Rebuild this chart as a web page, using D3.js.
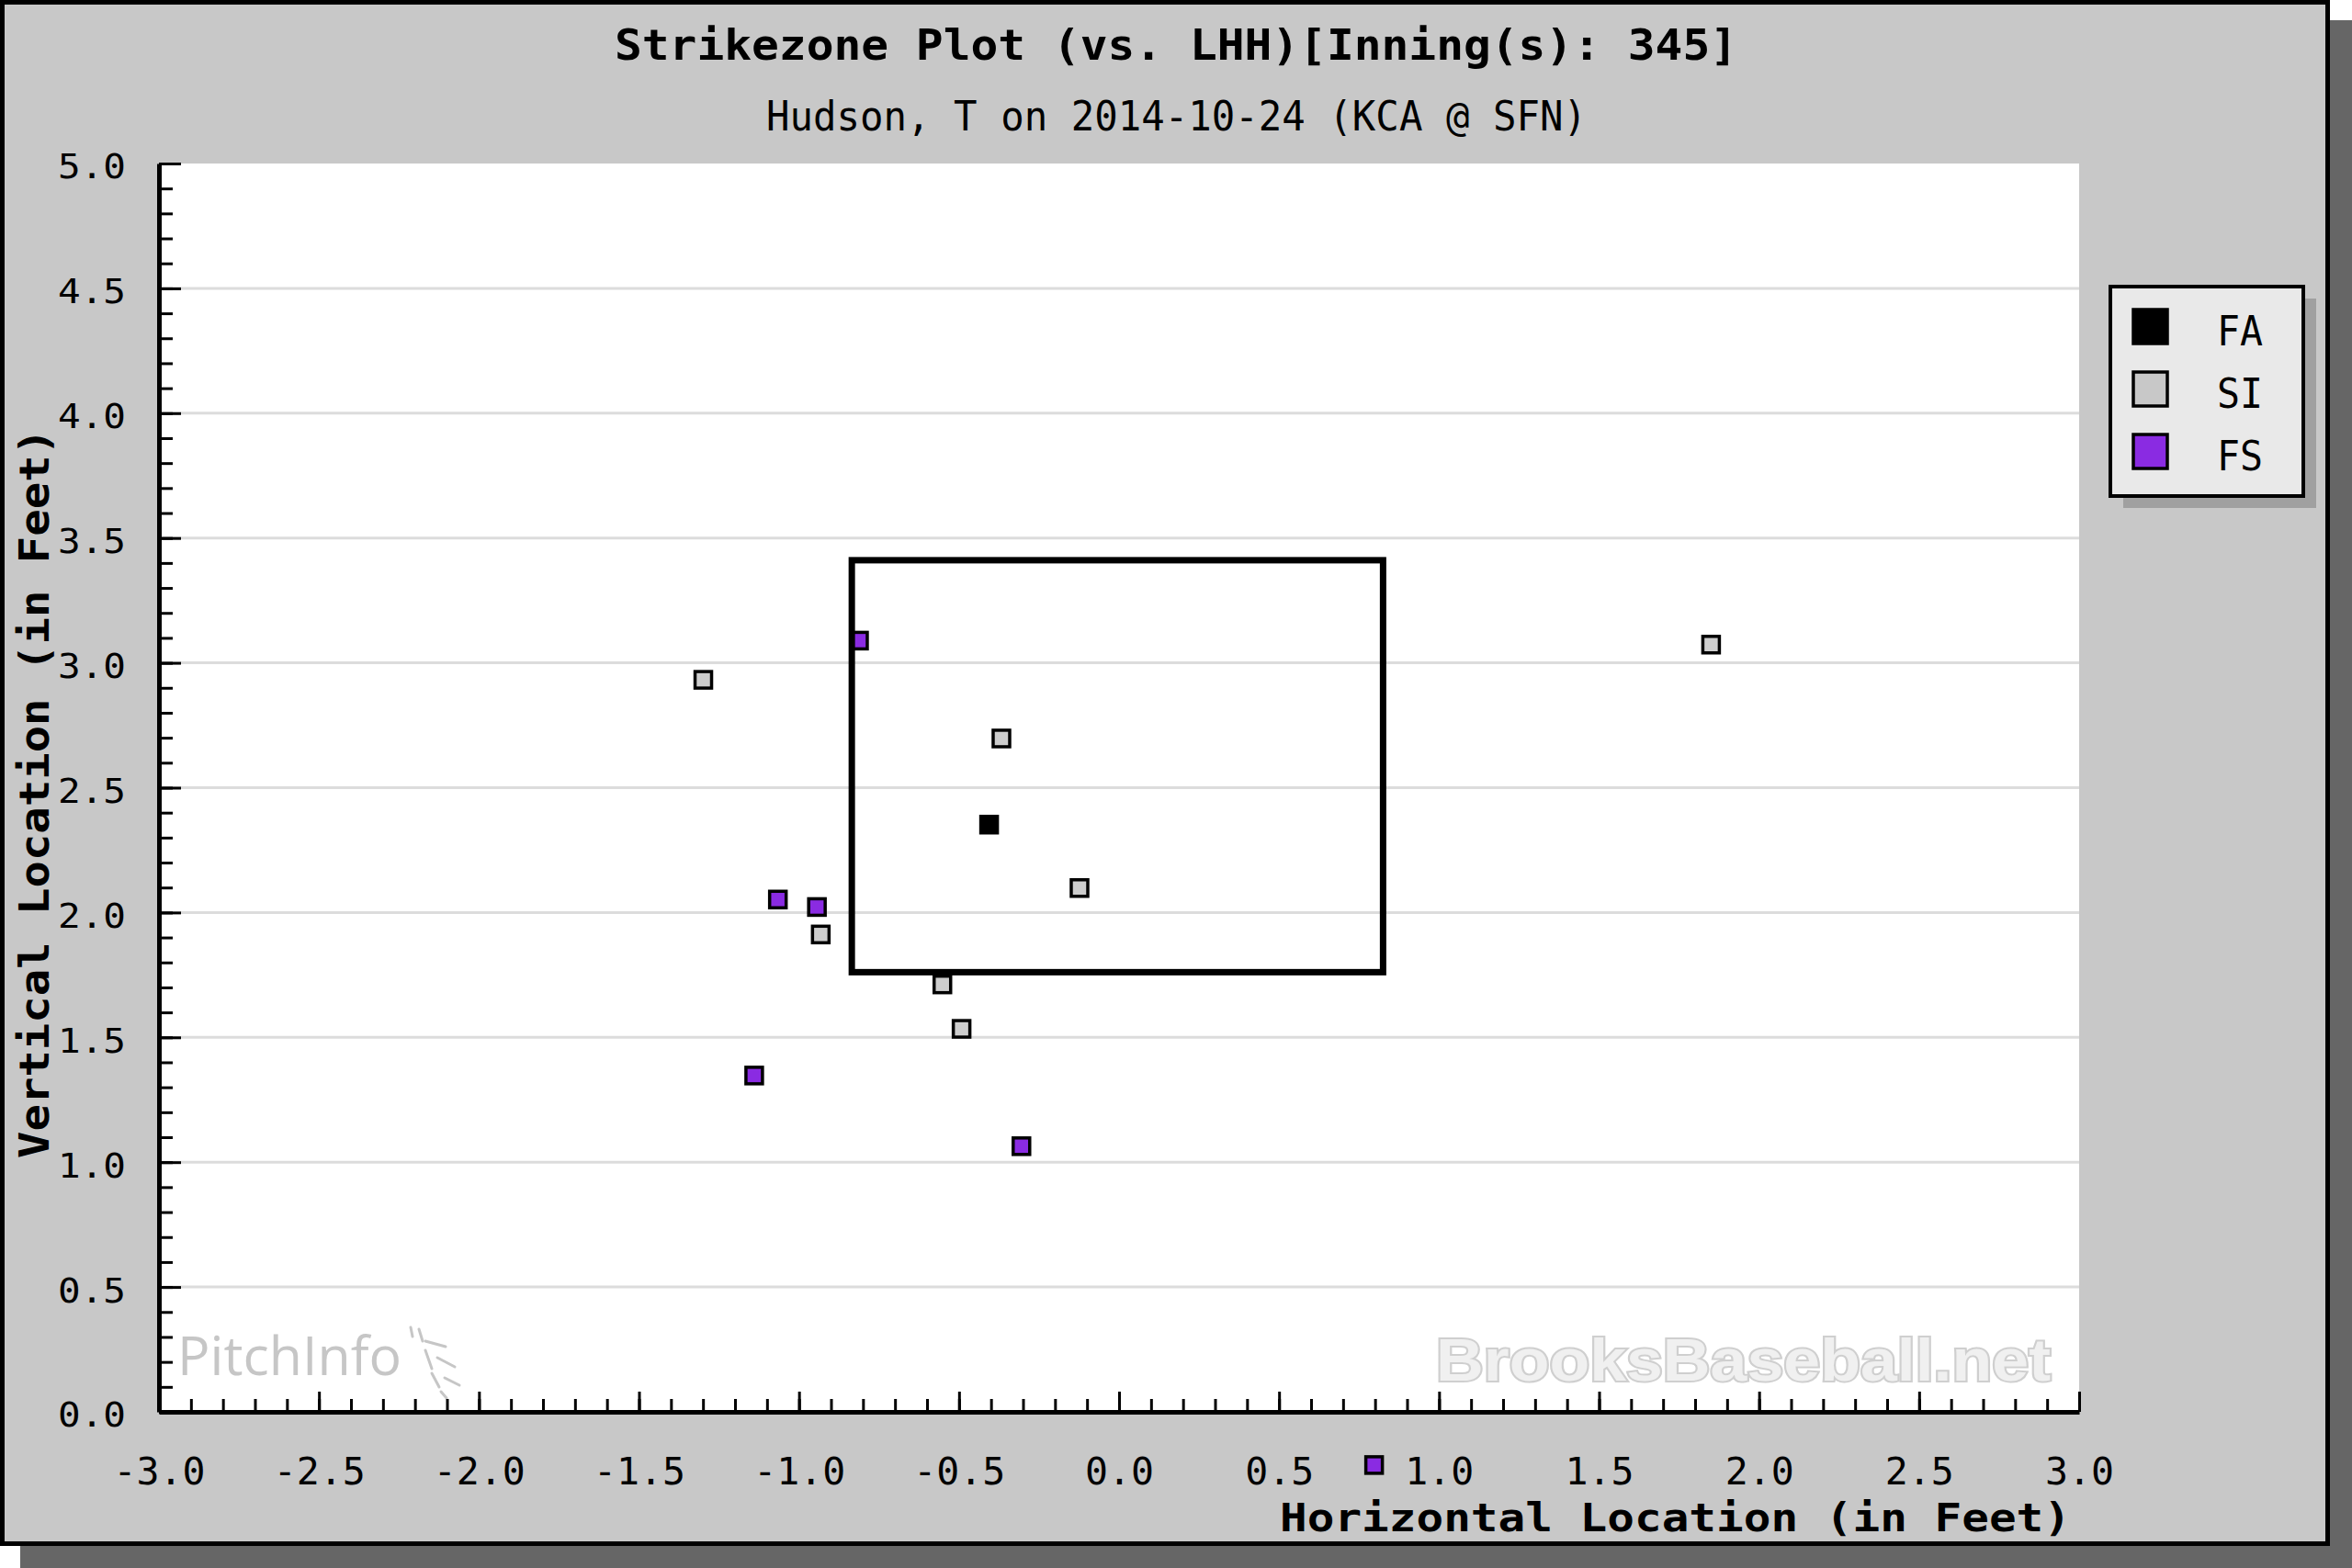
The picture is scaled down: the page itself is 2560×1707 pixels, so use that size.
<!DOCTYPE html>
<html>
<head>
<meta charset="utf-8">
<script src="https://cdn.jsdelivr.net/npm/d3@7"></script>
<style>
  html, body { margin: 0; padding: 0; background: #ffffff; }
  svg { display: block; }
  text { font-family: "DejaVu Sans Mono", "Liberation Mono", monospace; }
</style>
</head>
<body>
<script>
// ---------------- data ----------------
const pitchTypes = ["FA", "SI", "FS"];
const pitchHoriz = [-1.299, -0.8125, -0.3675, -0.406, -0.1235, -1.066, -0.944, -0.932, -0.552, -0.492, -1.140, -0.305, 1.850, 0.797];
const pitchVert  = [ 2.932,  3.089,   2.697,   2.352,  2.098,   2.052,  2.022,  1.912,  1.712,  1.534,  1.347,  1.064, 3.073, -0.213];
const pitchType  = ["SI", "FS", "SI", "FA", "SI", "FS", "FS", "SI", "SI", "SI", "FS", "FS", "SI", "FS"];
const zoneHoriz = [-0.835, 0.825];
const zoneVert = [1.761, 3.411];
const xTicks = [-3.0, -2.5, -2.0, -1.5, -1.0, -0.5, 0.0, 0.5, 1.0, 1.5, 2.0, 2.5, 3.0];
const yTicks = [0.0, 0.5, 1.0, 1.5, 2.0, 2.5, 3.0, 3.5, 4.0, 4.5, 5.0];
const titleText = "Strikezone Plot (vs. LHH)[Inning(s): 345]";
const subtitleText = "Hudson, T on 2014-10-24 (KCA @ SFN)";
const xTitle = "Horizontal Location (in Feet)";
const yTitle = "Vertical Location (in Feet)";

// ---------------- layout ----------------
const W = 2560, H = 1707;
const plot = { left: 173, right: 2263, top: 178, bottom: 1537 };
const typeFill = { FA: "#000000", SI: "#cdcdcd", FS: "#8a2be2" };

const svg = d3.select("body").append("svg").attr("width", W).attr("height", H);

// panel shadow + panel
svg.append("rect").attr("x", 22).attr("y", 22).attr("width", W - 22).attr("height", H - 22).attr("fill", "#666666");
svg.append("rect").attr("x", 2.5).attr("y", 2.5).attr("width", 2531).attr("height", 1678)
  .attr("fill", "#c8c8c8").attr("stroke", "#000").attr("stroke-width", 5);

const x = d3.scaleLinear().domain([-3, 3]).range([plot.left, plot.right]);
const y = d3.scaleLinear().domain([0, 5]).range([plot.bottom, plot.top]);

// plot background
svg.append("rect").attr("x", plot.left).attr("y", plot.top)
  .attr("width", plot.right - plot.left).attr("height", plot.bottom - plot.top).attr("fill", "#ffffff");

// gridlines
svg.append("g").selectAll("line").data(yTicks.filter(v => v > 0 && v < 5)).join("line")
  .attr("x1", plot.left).attr("x2", plot.right)
  .attr("y1", d => y(d)).attr("y2", d => y(d))
  .attr("stroke", "#dcdcdc").attr("stroke-width", 3);

// watermarks
svg.append("text").attr("x", 193).attr("y", 1497)
  .style("font-family", "'Open Sans', 'Noto Sans', sans-serif")
  .attr("font-size", 58).attr("fill", "#c6c6c6").attr("textLength", 244).attr("lengthAdjust", "spacingAndGlyphs")
  .text("PitchInfo");
const logo = svg.append("g").attr("stroke", "#c6c6c6").attr("stroke-width", 3).attr("stroke-linecap", "round");
[[447,1445,449,1455],[456,1447,460,1460],[463,1460,485,1466],[463,1470,470,1490],[476,1478,495,1488],[470,1495,478,1510],[484,1500,500,1508],[480,1515,486,1522]]
  .forEach(s => logo.append("line").attr("x1", s[0]).attr("y1", s[1]).attr("x2", s[2]).attr("y2", s[3]));
svg.append("text").attr("x", 1563).attr("y", 1503)
  .style("font-family", "'Liberation Sans', Arial, sans-serif").attr("font-weight", "bold")
  .attr("font-size", 64).attr("fill", "#f0f0f0").attr("stroke", "#cfcfcf").attr("stroke-width", 4)
  .attr("paint-order", "stroke")
  .attr("textLength", 669).attr("lengthAdjust", "spacingAndGlyphs")
  .text("BrooksBaseball.net");

// axes
const minorX = d3.range(-30, 31).map(v => v / 10);
const minorY = d3.range(0, 51).map(v => v / 10);

svg.append("g").attr("transform", `translate(0,${plot.bottom})`)
  .call(d3.axisBottom(x).tickValues(minorX).tickFormat("").tickSizeInner(-14).tickSizeOuter(0))
  .call(g => g.select(".domain").remove())
  .call(g => g.selectAll(".tick line").attr("stroke", "#000").attr("stroke-width", 3));
svg.append("g").attr("transform", `translate(${plot.left},0)`)
  .call(d3.axisLeft(y).tickValues(minorY).tickFormat("").tickSizeInner(-15).tickSizeOuter(0))
  .call(g => g.select(".domain").remove())
  .call(g => g.selectAll(".tick line").attr("stroke", "#000").attr("stroke-width", 3));

const xAxis = svg.append("g").attr("transform", `translate(0,${plot.bottom})`)
  .call(d3.axisBottom(x).tickValues(xTicks).tickFormat(d3.format(".1f")).tickSizeInner(-22).tickSizeOuter(0).tickPadding(51));
xAxis.select(".domain").attr("stroke", "#000").attr("stroke-width", 5);
xAxis.selectAll(".tick line").attr("stroke", "#000").attr("stroke-width", 3);
xAxis.selectAll(".tick text").attr("font-size", 40).attr("fill", "#000")
  .style("font-family", "'DejaVu Sans Mono', monospace")
  .text(d => d3.format(".1f")(d).replace("−", "-"))
  .attr("textLength", d => d < 0 ? 100 : 75).attr("lengthAdjust", "spacingAndGlyphs");

const yAxis = svg.append("g").attr("transform", `translate(${plot.left},0)`)
  .call(d3.axisLeft(y).tickValues(yTicks).tickFormat(d3.format(".1f")).tickSizeInner(-24).tickSizeOuter(0).tickPadding(36));
yAxis.select(".domain").attr("stroke", "#000").attr("stroke-width", 5);
yAxis.selectAll(".tick line").attr("stroke", "#000").attr("stroke-width", 3);
yAxis.selectAll(".tick text").attr("font-size", 38).attr("fill", "#000")
  .style("font-family", "'DejaVu Sans Mono', monospace")
  .attr("dy", "0.42em")
  .attr("textLength", 74).attr("lengthAdjust", "spacingAndGlyphs");

// pitches
const pts = pitchHoriz.map((h, i) => ({ h, v: pitchVert[i], t: pitchType[i] }));
const msize = 18;
svg.append("g").selectAll("rect").data(pts).join("rect")
  .attr("x", d => x(d.h) - msize / 2).attr("y", d => y(d.v) - msize / 2)
  .attr("width", msize).attr("height", msize)
  .attr("fill", d => typeFill[d.t]).attr("stroke", "#000").attr("stroke-width", 3.5);

// strike zone
svg.append("rect")
  .attr("x", x(zoneHoriz[0])).attr("y", y(zoneVert[1]))
  .attr("width", x(zoneHoriz[1]) - x(zoneHoriz[0])).attr("height", y(zoneVert[0]) - y(zoneVert[1]))
  .attr("fill", "none").attr("stroke", "#000").attr("stroke-width", 7);

// titles
svg.append("text").attr("x", 669).attr("y", 65).attr("font-size", 47).attr("font-weight", "bold")
  .attr("textLength", 1222).attr("lengthAdjust", "spacingAndGlyphs").text(titleText);
svg.append("text").attr("x", 834).attr("y", 142).attr("font-size", 45)
  .attr("textLength", 893).attr("lengthAdjust", "spacingAndGlyphs").text(subtitleText);
svg.append("text").attr("x", 1393).attr("y", 1667).attr("font-size", 43).attr("font-weight", "bold")
  .attr("textLength", 861).attr("lengthAdjust", "spacingAndGlyphs").text(xTitle);
svg.append("text").attr("transform", "translate(53,863.5) rotate(-90)").attr("text-anchor", "middle")
  .attr("font-size", 45).attr("font-weight", "bold")
  .attr("textLength", 795).attr("lengthAdjust", "spacingAndGlyphs").text(yTitle);

// legend
const lg = { x: 2297, y: 312, w: 210, h: 228 };
svg.append("rect").attr("x", lg.x + 14).attr("y", lg.y + 13).attr("width", lg.w).attr("height", lg.h).attr("fill", "#a0a0a0");
svg.append("rect").attr("x", lg.x).attr("y", lg.y).attr("width", lg.w).attr("height", lg.h)
  .attr("fill", "#e9e9e9").attr("stroke", "#000").attr("stroke-width", 4);
const legendRow = d3.scaleBand().domain(pitchTypes).range([lg.y + 22, lg.y + 22 + 3 * 68]);
const items = svg.append("g").selectAll("g").data(pitchTypes).join("g")
  .attr("transform", d => `translate(0,${legendRow(d)})`);
items.append("rect").attr("x", 2322).attr("y", 3).attr("width", 37).attr("height", 37)
  .attr("fill", d => d === "SI" ? "#c8c8c8" : typeFill[d]).attr("stroke", "#000").attr("stroke-width", 3.5);
items.append("text").attr("x", 2413).attr("y", 42).attr("font-size", 44)
  .attr("textLength", 50).attr("lengthAdjust", "spacingAndGlyphs").text(d => d);
</script>
</body>
</html>
